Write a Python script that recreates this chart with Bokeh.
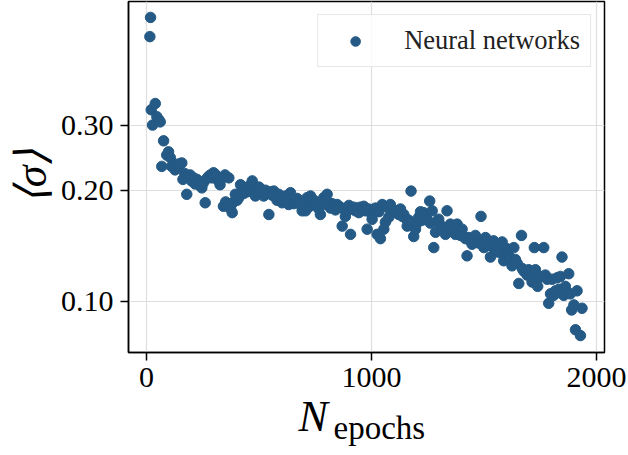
import math
from bokeh.plotting import figure
from bokeh.layouts import row, column
from bokeh.models import Range1d, FixedTicker, NumeralTickFormatter, ColumnDataSource
from bokeh.core.properties import value
from bokeh.embed import file_html
from bokeh.resources import INLINE

epochs = [15, 18, 21, 27, 39, 46, 55, 61, 68, 76, 90, 98, 106, 112, 120, 127, 135, 142, 150, 157,
          162, 170, 179, 186, 194, 200, 209, 216, 224, 231, 238, 246, 252, 261, 268, 276, 284, 291, 298, 305,
          312, 320, 327, 334, 342, 349, 352, 359, 366, 374, 381, 388, 395, 403, 410, 418, 425, 432, 440, 447,
          455, 462, 470, 477, 484, 492, 500, 507, 514, 521, 529, 536, 544, 551, 558, 566, 573, 580, 588, 595,
          603, 610, 618, 625, 632, 640, 647, 655, 662, 670, 677, 684, 692, 700, 707, 714, 721, 729, 736, 744,
          751, 759, 766, 773, 781, 788, 796, 803, 810, 818, 825, 832, 840, 847, 855, 862, 870, 877, 884, 892,
          900, 907, 914, 921, 929, 936, 944, 951, 959, 966, 973, 981, 988, 996, 1003, 1010, 1018, 1025, 1033, 1040,
          1048, 1055, 1062, 1070, 1077, 1084, 1092, 1099, 1107, 1114, 1122, 1129, 1137, 1144, 1151, 1159, 1166, 1176, 1188, 1196,
          1203, 1210, 1218, 1225, 1232, 1240, 1247, 1259, 1262, 1270, 1277, 1285, 1292, 1299, 1307, 1314, 1322, 1329, 1336, 1344,
          1351, 1359, 1366, 1373, 1381, 1388, 1396, 1403, 1410, 1418, 1425, 1433, 1440, 1447, 1455, 1462, 1470, 1477, 1487, 1492,
          1500, 1507, 1514, 1522, 1529, 1536, 1543, 1551, 1558, 1566, 1573, 1581, 1588, 1596, 1603, 1610, 1618, 1625, 1633, 1640,
          1648, 1655, 1667, 1670, 1677, 1685, 1692, 1699, 1707, 1714, 1724, 1729, 1739, 1744, 1751, 1766, 1773, 1781, 1788, 1796,
          1803, 1810, 1818, 1825, 1833, 1840, 1847, 1855, 1862, 1870, 1877, 1884, 1890, 1900, 1907, 1914, 1929, 1936]

sigma = [0.520, 0.586, 0.330, 0.300, 0.343, 0.316, 0.310, 0.306, 0.232, 0.272, 0.249, 0.254, 0.245, 0.232, 0.234, 0.227, 0.235, 0.233, 0.236, 0.237,
         0.214, 0.222, 0.195, 0.218, 0.220, 0.212, 0.216, 0.208, 0.214, 0.212, 0.206, 0.203, 0.209, 0.185, 0.215, 0.218, 0.220, 0.216, 0.223, 0.221,
         0.218, 0.212, 0.207, 0.215, 0.181, 0.220, 0.186, 0.183, 0.216, 0.178, 0.174, 0.186, 0.195, 0.188, 0.191, 0.207, 0.200, 0.196, 0.203, 0.198,
         0.205, 0.199, 0.212, 0.201, 0.193, 0.199, 0.204, 0.202, 0.197, 0.193, 0.200, 0.196, 0.172, 0.198, 0.194, 0.199, 0.192, 0.188, 0.195, 0.190,
         0.185, 0.187, 0.193, 0.186, 0.183, 0.197, 0.190, 0.184, 0.187, 0.190, 0.186, 0.183, 0.176, 0.185, 0.176, 0.191, 0.180, 0.193, 0.184, 0.188,
         0.185, 0.181, 0.178, 0.172, 0.183, 0.191, 0.187, 0.195, 0.182, 0.179, 0.184, 0.180, 0.177, 0.183, 0.181, 0.180, 0.160, 0.178, 0.170, 0.176,
         0.182, 0.152, 0.178, 0.180, 0.176, 0.179, 0.174, 0.180, 0.177, 0.181, 0.176, 0.157, 0.178, 0.174, 0.167, 0.177, 0.179, 0.152, 0.175, 0.148,
         0.183, 0.157, 0.164, 0.180, 0.169, 0.183, 0.178, 0.176, 0.174, 0.176, 0.172, 0.178, 0.170, 0.172, 0.168, 0.160, 0.166, 0.199, 0.150, 0.157,
         0.163, 0.169, 0.175, 0.166, 0.174, 0.171, 0.167, 0.187, 0.163, 0.176, 0.140, 0.154, 0.165, 0.167, 0.161, 0.159, 0.157, 0.152, 0.176, 0.158,
         0.162, 0.156, 0.154, 0.152, 0.162, 0.153, 0.151, 0.157, 0.150, 0.148, 0.133, 0.149, 0.146, 0.143, 0.147, 0.151, 0.146, 0.144, 0.170, 0.143,
         0.140, 0.149, 0.142, 0.144, 0.132, 0.141, 0.146, 0.139, 0.137, 0.136, 0.139, 0.145, 0.129, 0.134, 0.139, 0.133, 0.131, 0.125, 0.140, 0.130,
         0.127, 0.112, 0.151, 0.123, 0.121, 0.120, 0.118, 0.122, 0.119, 0.113, 0.140, 0.122, 0.110, 0.116, 0.117, 0.140, 0.118, 0.115, 0.099, 0.105,
         0.115, 0.104, 0.107, 0.116, 0.108, 0.117, 0.132, 0.104, 0.110, 0.106, 0.119, 0.105, 0.095, 0.098, 0.084, 0.107, 0.081, 0.096]

x_ticks = [0, 1000, 2000]
y_ticks = [0.10, 0.20, 0.30]
series_name = "Neural networks"
x_title_main = "N"
x_title_sub = "epochs"
y_title = "⟨σ⟩"

SERIF = "Liberation Serif"
COLOR = "#245a85"

YL_W = 57
MAIN_W = 628 - YL_W
BL, BR = 128 - YL_W, 24          # left / right borders of the plot frame
OVERLAP = 20                      # the title strip slides up under the tick labels
XL_H = 55 + OVERLAP

# ---------------- main plot ----------------
p = figure(width=MAIN_W, height=400, output_backend="svg", toolbar_location=None,
           y_axis_type="log",
           x_range=Range1d(-80, 2036), y_range=Range1d(0.0729, 0.647),
           min_border_left=BL, min_border_right=BR, min_border_top=1, min_border_bottom=48)

p.background_fill_color = "white"
p.border_fill_color = "white"
p.outline_line_color = "black"
p.outline_line_width = 1.5

src = ColumnDataSource(dict(x=epochs, y=sigma))
p.scatter("x", "y", source=src, size=10.5, color=COLOR, line_color=COLOR, legend_label=series_name)

p.xaxis.ticker = FixedTicker(ticks=x_ticks, minor_ticks=[])
p.yaxis.ticker = FixedTicker(ticks=y_ticks, minor_ticks=[])
p.yaxis.formatter = NumeralTickFormatter(format="0.00")

for ax in (p.xaxis, p.yaxis):
    ax.major_label_text_font = SERIF
    ax.major_label_text_font_size = "30px"
    ax.major_label_text_color = "black"
    ax.axis_line_color = "black"
    ax.axis_line_width = 1.5
    ax.major_tick_line_color = "black"
    ax.major_tick_line_width = 1.5
    ax.major_tick_out = 8
    ax.major_tick_in = 0
    ax.minor_tick_line_color = None
    ax.major_label_standoff = 7

p.xgrid.grid_line_color = "#dedede"
p.ygrid.grid_line_color = "#dedede"
p.xgrid.grid_line_width = 1.2
p.ygrid.grid_line_width = 1.2

lg = p.legend[0]
lg.location = "top_right"
lg.margin = 13
lg.padding = 10
lg.glyph_width = 54
lg.glyph_height = 24
lg.label_height = 24
lg.label_standoff = 22
lg.label_text_font = SERIF
lg.label_text_font_size = "26.5px"
lg.label_text_color = "#222222"
lg.border_line_color = "#d0d0d0"
lg.border_line_width = 1
lg.background_fill_color = "white"
lg.background_fill_alpha = 0.85


def blank(w, h, bl, br, xr, transparent=False):
    f = figure(width=w, height=h, output_backend="svg", toolbar_location=None,
               x_range=xr, y_range=Range1d(0, h),
               x_axis_location=None, y_axis_location=None,
               min_border_left=bl, min_border_right=br, min_border_top=0, min_border_bottom=0,
               sizing_mode="fixed")
    f.grid.visible = False
    f.outline_line_color = None
    f.background_fill_color = "white"
    f.border_fill_color = "white"
    if transparent:
        f.background_fill_alpha = 0
        f.border_fill_alpha = 0
    return f


# ---------------- x-axis title (x range in page pixels of the frame) ----------------
xl = blank(MAIN_W, XL_H, BL, BR, Range1d(128, 604), transparent=True)
xl.margin = (-OVERLAP, 0, 0, 0)
xl.text(x=[298], y=[39], text=[x_title_main], text_font=value(SERIF), text_font_style="italic",
        text_font_size="44px", text_baseline="alphabetic", text_align="left", text_color="black")
xl.text(x=[333], y=[28], text=[x_title_sub], text_font=value(SERIF),
        text_font_size="33px", text_baseline="alphabetic", text_align="left", text_color="black")

# ---------------- y-axis title ----------------
yl = blank(YL_W, 455, 0, 0, Range1d(0, YL_W))
yl.text(x=[31], y=[279], text=[y_title], text_font=value(SERIF), text_font_style="italic",
        text_font_size="44px", angle=math.pi / 2, text_baseline="middle", text_align="center",
        text_color="black")

layout = row(yl, column(p, xl, spacing=0, sizing_mode="fixed"), spacing=0, sizing_mode="fixed")

open("out.html", "w").write(file_html(layout, INLINE))
